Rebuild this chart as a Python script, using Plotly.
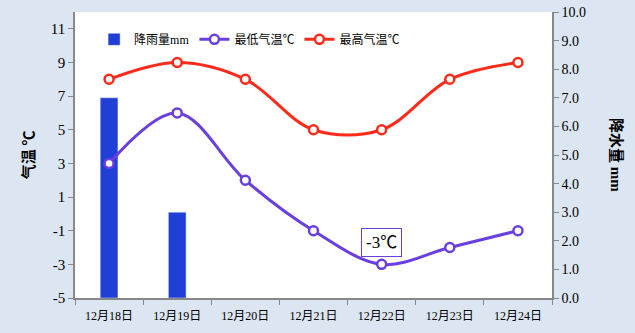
import plotly.graph_objects as go

dates = ["12月18日", "12月19日", "12月20日", "12月21日", "12月22日", "12月23日", "12月24日"]
rain = [7.0, 3.0, None, None, None, None, None]
tmin = [3, 6, 2, -1, -3, -2, -1]
tmax = [8, 9, 8, 5, 5, 8, 9]
left_ticks = [-5, -3, -1, 1, 3, 5, 7, 9, 11]
right_ticks = [0, 1, 2, 3, 4, 5, 6, 7, 8, 9, 10]

FONT = "Liberation Serif, Noto Sans CJK SC, serif"

fig = go.Figure()
fig.add_trace(go.Bar(x=dates, y=rain, name="降雨量mm", marker_color="#1f3fd6",
                     width=0.26, yaxis="y"))
fig.add_trace(go.Scatter(x=dates, y=tmin, name="最低气温℃", mode="lines+markers", yaxis="y2",
                         line=dict(color="#6a3fe0", width=3, shape="spline", smoothing=1.0),
                         marker=dict(symbol="circle", size=9, color="white",
                                     line=dict(color="#6a3fe0", width=2.5))))
fig.add_trace(go.Scatter(x=dates, y=tmax, name="最高气温℃", mode="lines+markers", yaxis="y2",
                         line=dict(color="#ff2a1a", width=3, shape="spline", smoothing=1.0),
                         marker=dict(symbol="circle", size=9, color="white",
                                     line=dict(color="#ff2a1a", width=2.5))))

fig.add_annotation(x=dates[4], y=tmin[4], xref="x", yref="y2", text="-3℃", showarrow=False,
                   yshift=22, bordercolor="#6a3fe0", borderwidth=1, bgcolor="white", borderpad=4,
                   font=dict(family=FONT, size=17, color="black"))
fig.add_annotation(x=-0.12, y=0.5, xref="paper", yref="paper", text="<b>气温 ℃</b>",
                   textangle=-90, showarrow=False, font=dict(family=FONT, size=15, color="black"))
fig.add_annotation(x=1.155, y=0.5, xref="paper", yref="paper", text="<b>降水量 mm</b>",
                   textangle=90, showarrow=False, font=dict(family=FONT, size=15, color="black"))

fig.update_layout(
    width=635, height=333,
    margin=dict(l=75, r=83, t=12, b=35, autoexpand=False),
    paper_bgcolor="#dce6f2", plot_bgcolor="white",
    font=dict(family=FONT, size=14, color="black"),
    showlegend=True,
    legend=dict(orientation="h", x=0.04, y=0.955, xanchor="left", yanchor="top",
                bgcolor="rgba(255,255,255,0)", font=dict(size=12), itemwidth=30,
                tracegroupgap=0),
    xaxis=dict(type="category", tickson="boundaries", ticks="outside", ticklen=5,
               showline=True, linecolor="#888", linewidth=1.5, showgrid=False,
               tickcolor="#888", tickfont=dict(size=12), ticklabelstandoff=6, automargin=False),
    yaxis2=dict(range=[-5, 12], tickvals=left_ticks, ticktext=[str(v) for v in left_ticks],
                ticks="outside", ticklen=5, side="left", overlaying="y",
                showline=True, linecolor="#888", linewidth=1.5, showgrid=False,
                zeroline=False, tickcolor="#888", tickfont=dict(size=15), automargin=False),
    yaxis=dict(range=[0, 10], tickvals=right_ticks, tickformat=".1f",
               side="right", ticks="outside", ticklen=5, showline=True,
               linecolor="#888", linewidth=1.5, showgrid=False, zeroline=False,
               tickcolor="#888", tickfont=dict(size=14), automargin=False),
    bargap=0.74,
)

fig.write_html("out.html")
